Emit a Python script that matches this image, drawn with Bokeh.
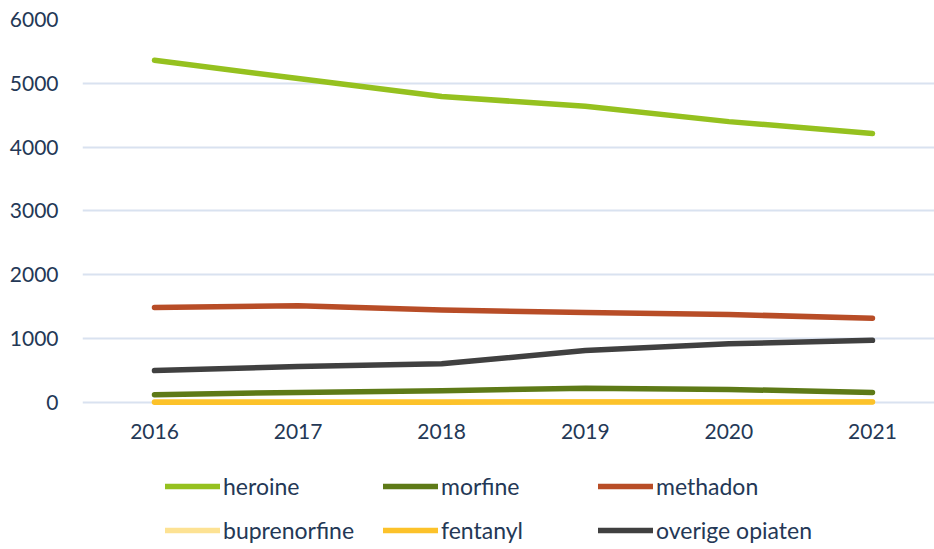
from bokeh.plotting import figure
from bokeh.layouts import column
from bokeh.models import Range1d, Legend, LegendItem, FixedTicker
from bokeh.embed import file_html
from bokeh.resources import INLINE

years = ["2016", "2017", "2018", "2019", "2020", "2021"]
heroine = [5360, 5075, 4795, 4640, 4400, 4215]
morfine = [122, 158, 184, 222, 205, 158]
methadon = [1488, 1515, 1450, 1408, 1378, 1320]
buprenorfine = [10, 10, 10, 10, 10, 10]
fentanyl = [5, 5, 5, 8, 8, 8]
overige = [500, 563, 605, 816, 920, 973]
y_ticks = [0, 1000, 2000, 3000, 4000, 5000, 6000]

series = [
    ("heroine", heroine, "#95c11f"),
    ("morfine", morfine, "#5e7a17"),
    ("methadon", methadon, "#b84d27"),
    ("buprenorfine", buprenorfine, "#fde293"),
    ("fentanyl", fentanyl, "#fcc22a"),
    ("overige opiaten", overige, "#404040"),
]

FONT = "Lato"
TXT = "#243856"
FS = "21px"
LFS = "23px"

x = list(range(len(years)))

p = figure(width=934, height=460, output_backend="svg", toolbar_location=None,
           x_range=Range1d(-0.5014, 5.432), y_range=Range1d(-110, 6000),
           min_border_left=82, min_border_right=0, min_border_top=19,
           min_border_bottom=51)
p.outline_line_color = None
p.xgrid.grid_line_color = None
p.ygrid.grid_line_color = "#d9e2f0"
p.ygrid.grid_line_width = 2
p.yaxis.ticker = FixedTicker(ticks=y_ticks)
p.xaxis.ticker = FixedTicker(ticks=x)
p.xaxis.major_label_overrides = {i: y for i, y in enumerate(years)}

for ax in (p.xaxis[0], p.yaxis[0]):
    ax.axis_line_color = None
    ax.major_tick_line_color = None
    ax.minor_tick_line_color = None
    ax.major_tick_out = 0
    ax.major_tick_in = 0
    ax.major_label_text_font = FONT
    ax.major_label_text_font_size = FS
    ax.major_label_text_color = TXT
p.xaxis.major_label_standoff = 14
p.yaxis.major_label_standoff = 24

for name, vals, col in series:
    p.line(x, vals, line_color=col, line_width=5.5, line_cap="round", line_join="round")

# legend panel underneath (its own frame, series drawn out of view there)
lf = figure(width=934, height=88, output_backend="svg", toolbar_location=None,
            x_range=Range1d(-100, -99), y_range=Range1d(-100, -99),
            x_axis_type=None, y_axis_type=None,
            min_border_left=0, min_border_right=0, min_border_top=0,
            min_border_bottom=0)
lf.outline_line_color = None
lf.xgrid.grid_line_color = None
lf.ygrid.grid_line_color = None

positions = [(83, 48), (301, 48), (516, 48), (83, 4), (301, 4), (516, 4)]
for (name, vals, col), loc in zip(series, positions):
    r = lf.line(x, vals, line_color=col, line_width=5.5, line_cap="round")
    lg = Legend(items=[LegendItem(label=name, renderers=[r])],
                location=loc, padding=0, margin=0, spacing=0,
                border_line_color=None, background_fill_alpha=0,
                glyph_width=55, glyph_height=20, label_height=20,
                label_standoff=3, label_text_font=FONT, label_text_font_size=LFS,
                label_text_color=TXT)
    lf.add_layout(lg, "center")

layout = column(p, lf, spacing=0)
open("out.html", "w").write(file_html(layout, INLINE))
